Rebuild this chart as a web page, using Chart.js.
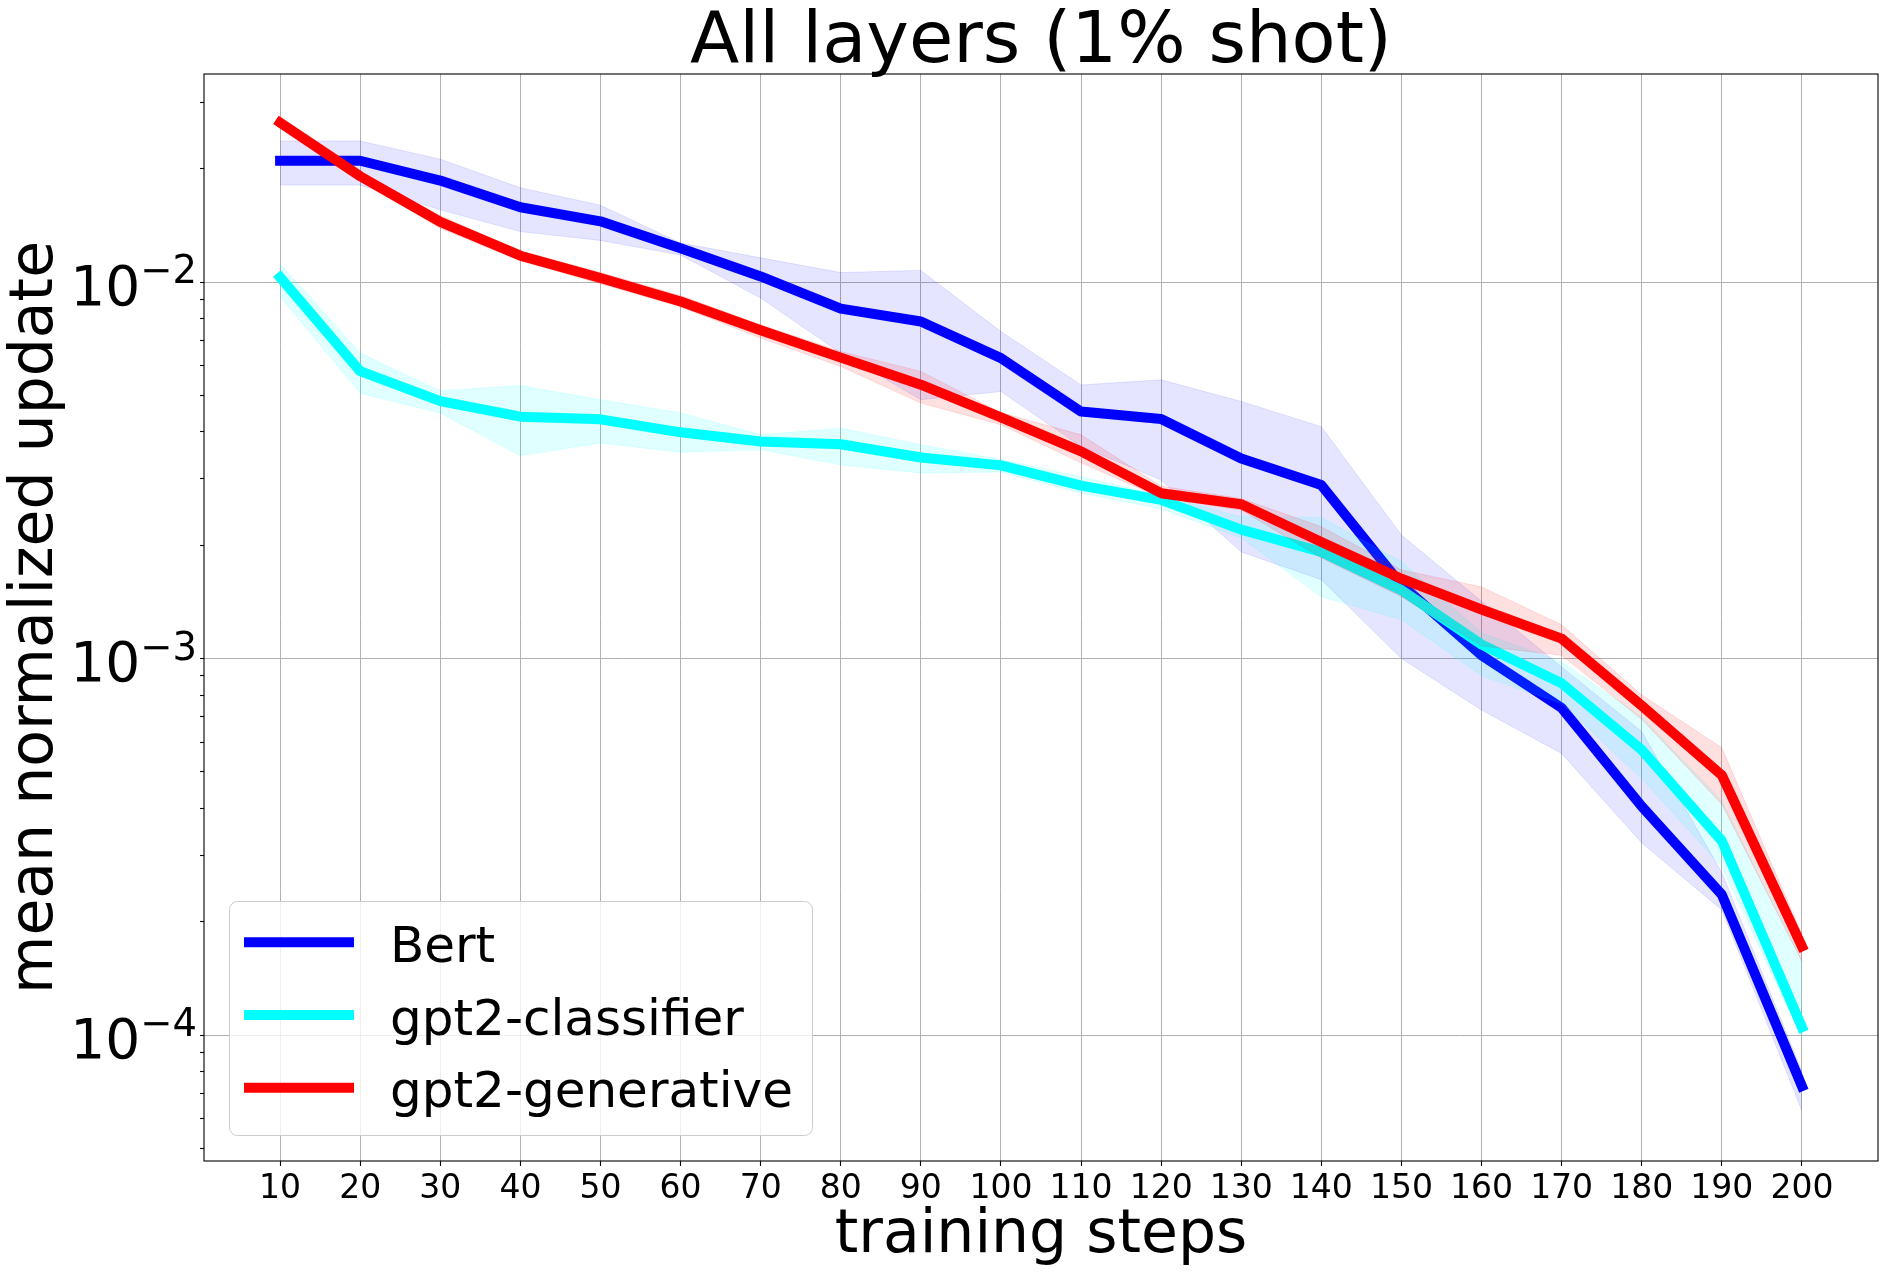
<!DOCTYPE html>
<html>
<head>
<meta charset="utf-8">
<script src="https://cdn.jsdelivr.net/npm/chart.js@4.4.0/dist/chart.umd.min.js"></script>
<style>
  body { margin: 0; background: #fff; }
</style>
</head>
<body>
<canvas id="chart" width="1885" height="1272"></canvas>
<script>
// Data

const steps = [10, 20, 30, 40, 50, 60, 70, 80, 90, 100, 110, 120, 130, 140, 150, 160, 170, 180, 190, 200];

const bert     = [0.0210, 0.0210, 0.0186, 0.0158, 0.0145, 0.0123, 0.01035, 0.0085, 0.00786, 0.00628, 0.00453, 0.00433, 0.00340, 0.00289, 0.00157, 0.00102, 0.00074, 0.000405, 0.000236, 0.0000732];
const bertLow  = [0.0181, 0.0181, 0.01556, 0.01362, 0.0129, 0.0118, 0.00907, 0.00648, 0.00487, 0.00512, 0.00366, 0.00298, 0.00192, 0.00162, 0.00100, 0.00073, 0.00056, 0.000324, 0.000215, 0.000063];
const bertHigh = [0.0237, 0.0237, 0.0212, 0.0178, 0.0160, 0.0127, 0.0116, 0.0106, 0.01074, 0.00739, 0.00533, 0.0055, 0.00482, 0.00413, 0.00213, 0.00142, 0.00095, 0.00064, 0.00027, 0.000080];

const cls     = [0.0103, 0.0058, 0.00483, 0.00439, 0.00432, 0.00399, 0.00377, 0.00371, 0.00342, 0.00326, 0.00288, 0.00264, 0.00220, 0.00192, 0.00152, 0.00109, 0.00086, 0.000572, 0.000328, 0.000105];
const clsLow  = [0.00916, 0.00507, 0.00449, 0.00346, 0.00374, 0.00353, 0.00359, 0.00327, 0.00311, 0.00313, 0.00275, 0.00250, 0.00209, 0.00146, 0.00127, 0.00090, 0.00076, 0.00048, 0.00028, 0.000098];
const clsHigh = [0.01118, 0.00648, 0.00514, 0.00531, 0.00487, 0.00449, 0.00393, 0.00409, 0.00370, 0.00338, 0.00304, 0.00271, 0.00238, 0.00237, 0.00181, 0.00117, 0.00098, 0.00070, 0.00042, 0.000157];

const gen     = [0.0265, 0.0191, 0.01445, 0.01175, 0.01025, 0.00888, 0.00745, 0.00630, 0.00534, 0.00437, 0.00355, 0.00275, 0.00257, 0.00204, 0.00163, 0.00135, 0.00113, 0.00075, 0.000490, 0.000172];
const genLow  = [0.0259, 0.0186, 0.0139, 0.0114, 0.0099, 0.0086, 0.0071, 0.00597, 0.00477, 0.00418, 0.00331, 0.00267, 0.00248, 0.00185, 0.00146, 0.00108, 0.00102, 0.00069, 0.00041, 0.000157];
const genHigh = [0.0271, 0.0196, 0.0150, 0.0121, 0.0106, 0.0092, 0.0077, 0.00654, 0.00579, 0.00450, 0.00393, 0.00287, 0.00266, 0.00224, 0.00172, 0.00155, 0.00123, 0.00080, 0.00058, 0.000185];

const seriesNames = ['Bert', 'gpt2-classifier', 'gpt2-generative'];
const seriesColors = ['#0000ff', '#00ffff', '#ff0000'];
const bandColors = ['rgba(0, 0, 255, 0.1)', 'rgba(0, 255, 255, 0.12)', 'rgba(255, 0, 0, 0.12)'];

const yMajor = [1e-4, 1e-3, 1e-2];
const yExp = ['\u22124', '\u22123', '\u22122'];
const yMinor = [5e-5, 6e-5, 7e-5, 8e-5, 9e-5, 2e-4, 3e-4, 4e-4, 5e-4, 6e-4, 7e-4, 8e-4, 9e-4,
                2e-3, 3e-3, 4e-3, 5e-3, 6e-3, 7e-3, 8e-3, 9e-3, 2e-2, 3e-2];

const titleText = 'All layers (1% shot)';
const xTitle = 'training steps';
const yTitle = 'mean normalized update';

const FONT = 'DejaVu Sans';
Chart.defaults.font.family = FONT;

const pts = arr => arr.map((v, i) => ({ x: steps[i], y: v }));

function lineSet(label, data, color, order) {
    return {
        label: label,
        data: pts(data),
        borderColor: color,
        borderWidth: 10,
        borderCapStyle: 'square',
        borderJoinStyle: 'round',
        pointRadius: 0,
        fill: false,
        order: order
    };
}

function edgeSet(data, color, fill, order) {
    return {
        data: pts(data),
        borderColor: color,
        backgroundColor: color,
        borderWidth: 1,
        pointRadius: 0,
        fill: fill,
        order: order
    };
}

// Titles, frame, y tick labels and the legend

const decorations = {
    id: 'decorations',
    afterDraw(chart) {
        const ctx = chart.ctx;
        const a = chart.chartArea;
        const yScale = chart.scales.y;
        const cx = (a.left + a.right) / 2;
        ctx.save();

        ctx.strokeStyle = '#000';
        ctx.lineWidth = 1.1;
        ctx.strokeRect(a.left, a.top, a.right - a.left, a.bottom - a.top);

        ctx.fillStyle = '#000';
        ctx.textBaseline = 'alphabetic';
        ctx.textAlign = 'center';
        ctx.font = '72px ' + FONT;
        ctx.fillText(titleText, cx, 62);

        ctx.font = '60px ' + FONT;
        ctx.fillText(xTitle, cx, 1252);

        ctx.save();
        ctx.translate(52, (a.top + a.bottom) / 2);
        ctx.rotate(-Math.PI / 2);
        ctx.fillText(yTitle, 0, 0);
        ctx.restore();

        ctx.textAlign = 'left';
        yMajor.forEach((v, i) => {
            const py = yScale.getPixelForValue(v);
            ctx.font = '38.5px ' + FONT;
            const we = ctx.measureText(yExp[i]).width;
            ctx.font = '55px ' + FONT;
            const wb = ctx.measureText('10').width;
            const x0 = 197 - we - wb;
            ctx.fillText('10', x0, py + 22.7);
            ctx.font = '38.5px ' + FONT;
            ctx.fillText(yExp[i], x0 + wb, py + 1);
        });

        // legend
        ctx.beginPath();
        ctx.roundRect(229.5, 901.5, 583, 234, 8);
        ctx.fillStyle = 'rgba(255, 255, 255, 0.8)';
        ctx.fill();
        ctx.strokeStyle = '#cccccc';
        ctx.lineWidth = 1;
        ctx.stroke();

        ctx.font = '50px ' + FONT;
        seriesNames.forEach((name, i) => {
            const ry = 942.3 + i * 72.7;
            ctx.beginPath();
            ctx.moveTo(249, ry);
            ctx.lineTo(349, ry);
            ctx.strokeStyle = seriesColors[i];
            ctx.lineWidth = 10;
            ctx.lineCap = 'square';
            ctx.stroke();
            ctx.fillStyle = '#000';
            ctx.fillText(name, 390, ry + 19.5);
        });

        ctx.restore();
    }
};

const chart = new Chart(document.getElementById('chart'), {
    type: 'line',
    data: {
        datasets: [
            edgeSet(bertLow, bandColors[0], false, 8),
            edgeSet(bertHigh, bandColors[0], '-1', 7),
            lineSet(seriesNames[0], bert, seriesColors[0], 6),
            edgeSet(clsLow, bandColors[1], false, 5),
            edgeSet(clsHigh, bandColors[1], '-1', 4),
            lineSet(seriesNames[1], cls, seriesColors[1], 3),
            edgeSet(genLow, bandColors[2], false, 2),
            edgeSet(genHigh, bandColors[2], '-1', 1),
            lineSet(seriesNames[2], gen, seriesColors[2], 0)
        ]
    },
    options: {
        responsive: false,
        animation: false,
        devicePixelRatio: 1,
        layout: {
            padding: { top: 74, right: 7, left: 0, bottom: 0 }
        },
        plugins: {
            legend: { display: false },
            tooltip: { enabled: false },
            title: { display: false }
        },
        scales: {
            x: {
                type: 'linear',
                min: 0.5,
                max: 209.5,
                afterBuildTicks: s => { s.ticks = steps.map(v => ({ value: v })); },
                afterFit: s => { s.height = 111; },
                ticks: {
                    font: { size: 33 },
                    color: '#000',
                    padding: 4,
                    maxRotation: 0,
                    autoSkip: false,
                    callback: v => String(v)
                },
                grid: { color: '#b0b0b0', lineWidth: 1, tickLength: 5, tickColor: '#000', tickWidth: 1.1 },
                border: { display: false }
            },
            y: {
                type: 'logarithmic',
                min: 4.63e-5,
                max: 0.0357,
                afterBuildTicks: s => {
                    s.ticks = yMajor.concat(yMinor).sort((p, q) => p - q).map(v => ({ value: v }));
                },
                afterFit: s => { s.width = 204; },
                ticks: { callback: () => '' },
                grid: {
                    color: c => (c.tick && yMajor.includes(c.tick.value)) ? '#b0b0b0' : 'rgba(0, 0, 0, 0)',
                    lineWidth: 1,
                    tickLength: 4,
                    tickColor: '#000',
                    tickWidth: 1.1
                },
                border: { display: false }
            }
        }
    },
    plugins: [decorations]
});
</script>
</body>
</html>
